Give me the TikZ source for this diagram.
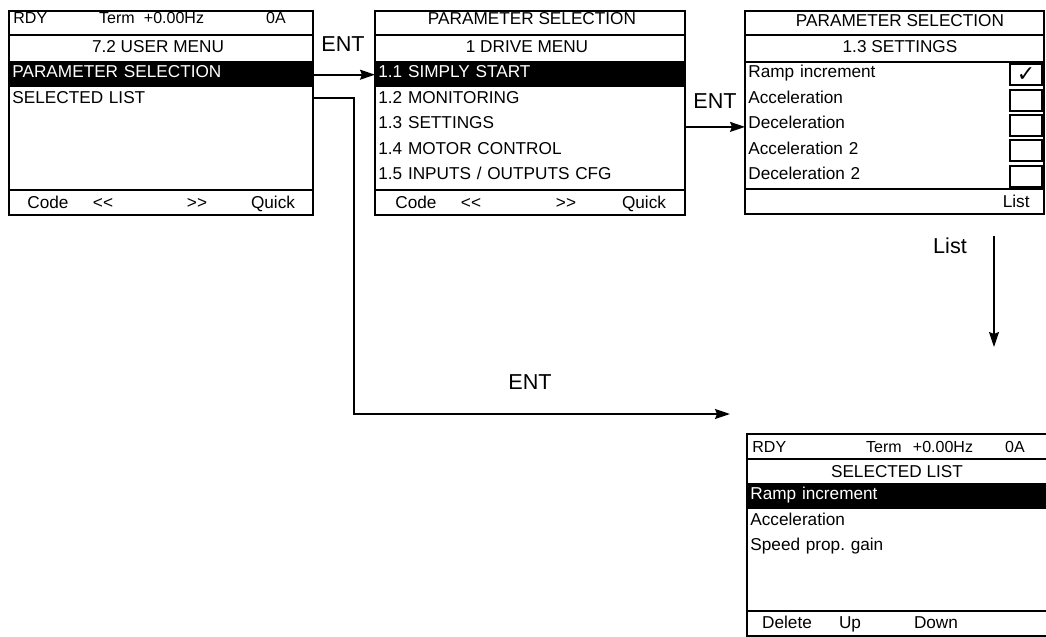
\documentclass[tikz,border=0pt]{standalone}
\usepackage{fontspec}
\setmainfont{Liberation Sans}
\newfontfamily\checkfont{DejaVu Sans}
\usetikzlibrary{arrows.meta}

\begin{document}
\begin{tikzpicture}[x=0.5pt, y=-0.5pt]
	\tikzset{screenframe/.style = {line width=1.2pt},
		rowline/.style = {line width=1pt},
		txt/.style = {inner sep=0pt, font=\fontsize{8.6}{10}\selectfont},
		hdr/.style = {inner sep=0pt, anchor=base, font=\fontsize{8}{10}\selectfont},
		item/.style = {txt, anchor=west, inner xsep=1.5pt, text width=#1, align=left, minimum height=12.7pt, text height=6.2pt, text depth=3pt},
		band/.style = {fill=black, text=white},
		chkbox/.style = {draw, line width=1pt, minimum width=16pt, minimum height=10.5pt, inner sep=0pt},
		lbl/.style = {inner sep=0pt, anchor=base, font=\fontsize{10.8}{12}\selectfont},
		arr/.style = {line width=0.8pt, -{Stealth[length=7.5pt, width=5pt, inset=1pt]}}}
	\useasboundingbox (0,0) rectangle (1046,637);
	\node[item=149pt, band] (um1) at (9,74.7) {PARAMETER SELECTION};
	\node[item=149pt] (um2) at (9,100.1) {SELECTED LIST};
	\node[hdr, anchor=base west] (um-rdy) at (13,24) {RDY};
	\foreach \n/\t/\x in {term/Term/117, hz/+0.00Hz/174, amp/0A/276}
		\node[hdr] (um-\n) at (\x,24) {\t};
	\node[txt, anchor=base] (um-title) at (158,53) {7.2 USER MENU};
	\foreach \n/\t/\x in {code/Code/48, prev/<\kern0pt</103, next/>\kern0pt>/197, quick/Quick/273}
		\node[txt, anchor=base] (um-\n) at (\x,208) {\t};
	\draw[screenframe] (9,11) rectangle (313,215);
	\foreach \y in {34.5, 61.5, 189.5}
		\draw[rowline] (9,\y) -- (313,\y);
	\node[item=152pt, band] (dm1) at (375,74.7) {1.1 SIMPLY START};
	\foreach \t [count=\i from 2] in {1.2 MONITORING, 1.3 SETTINGS, 1.4 MOTOR CONTROL, 1.5 INPUTS / OUTPUTS CFG}
		\node[item=152pt] (dm\i) at (375,{49.3+25.4*\i}) {\t};
	\node[txt, anchor=base] (dm-head) at (532,25) {PARAMETER SELECTION};
	\node[txt, anchor=base] (dm-title) at (527,53) {1 DRIVE MENU};
	\foreach \n/\t/\x in {code/Code/416, prev/<\kern0pt</471, next/>\kern0pt>/566, quick/Quick/644}
		\node[txt, anchor=base] (dm-\n) at (\x,208) {\t};
	\draw[screenframe] (375,11) rectangle (685,215);
	\foreach \y in {34.5, 61.5, 189.5}
		\draw[rowline] (375,\y) -- (685,\y);
	\foreach \t [count=\i] in {Ramp increment, Acceleration, Deceleration, Acceleration 2, Deceleration 2}{
		\node[item=146.5pt] (st\i) at (745,{49.3+25.4*\i}) {\t};
		\node[chkbox] (cb\i) at (1026,{49.3+25.4*\i}) {};
	}
	\node[inner sep=0pt, font=\checkfont\fontsize{11}{11}\selectfont] (chk) at (cb1) {✓};
	\node[txt, anchor=base] (st-head) at (900,26) {PARAMETER SELECTION};
	\node[txt, anchor=base] (st-title) at (900,53) {1.3 SETTINGS};
	\node[txt, anchor=base east] (st-list) at (1030,207) {List};
	\draw[screenframe] (745,11) rectangle (1044,214);
	\foreach \y in {34.5, 61.5, 188.5}
		\draw[rowline] (745,\y) -- (1044,\y);
	\node[item=148.5pt, band] (sl1) at (747,496.7) {Ramp increment};
	\foreach \t [count=\i from 2] in {Acceleration, Speed prop.\ gain}
		\node[item=148.5pt] (sl\i) at (747,{471.3+25.4*\i}) {\t};
	\node[hdr, anchor=base west] (sl-rdy) at (752,452) {RDY};
	\foreach \n/\t/\x in {term/Term/884, hz/+0.00Hz/943, amp/0A/1015}
		\node[hdr] (sl-\n) at (\x,452) {\t};
	\node[txt, anchor=base] (sl-title) at (897,477) {SELECTED LIST};
	\foreach \n/\t/\x in {del/Delete/787, up/Up/850, down/Down/936}
		\node[txt, anchor=base] (sl-\n) at (\x,628) {\t};
	\draw[screenframe] (747,434) rectangle (1050,636);
	\foreach \y in {459, 484, 611}
		\draw[rowline] (747,\y) -- (1050,\y);
	\coordinate (elbow) at (354,414);
	\coordinate (sl-in) at (730,414);
	\coordinate (list-a) at (994,236);
	\coordinate (list-b) at (994,347);
	\draw[arr] (um1.east) -- (dm1.west);
	\draw[arr] ([yshift=-0.7pt]dm3.east) -- ([yshift=-0.7pt]st3.west);
	\draw[arr] ([yshift=1pt]um2.east) -| (elbow) -- (sl-in);
	\draw[arr] (list-a) -- (list-b);
	\node[lbl] (ent1) at (343,52) {ENT};
	\node[lbl] (ent2) at (715,108) {ENT};
	\node[lbl] (ent3) at (530,389) {ENT};
	\node[lbl] (list) at (950,253) {List};
\end{tikzpicture}
\end{document}
